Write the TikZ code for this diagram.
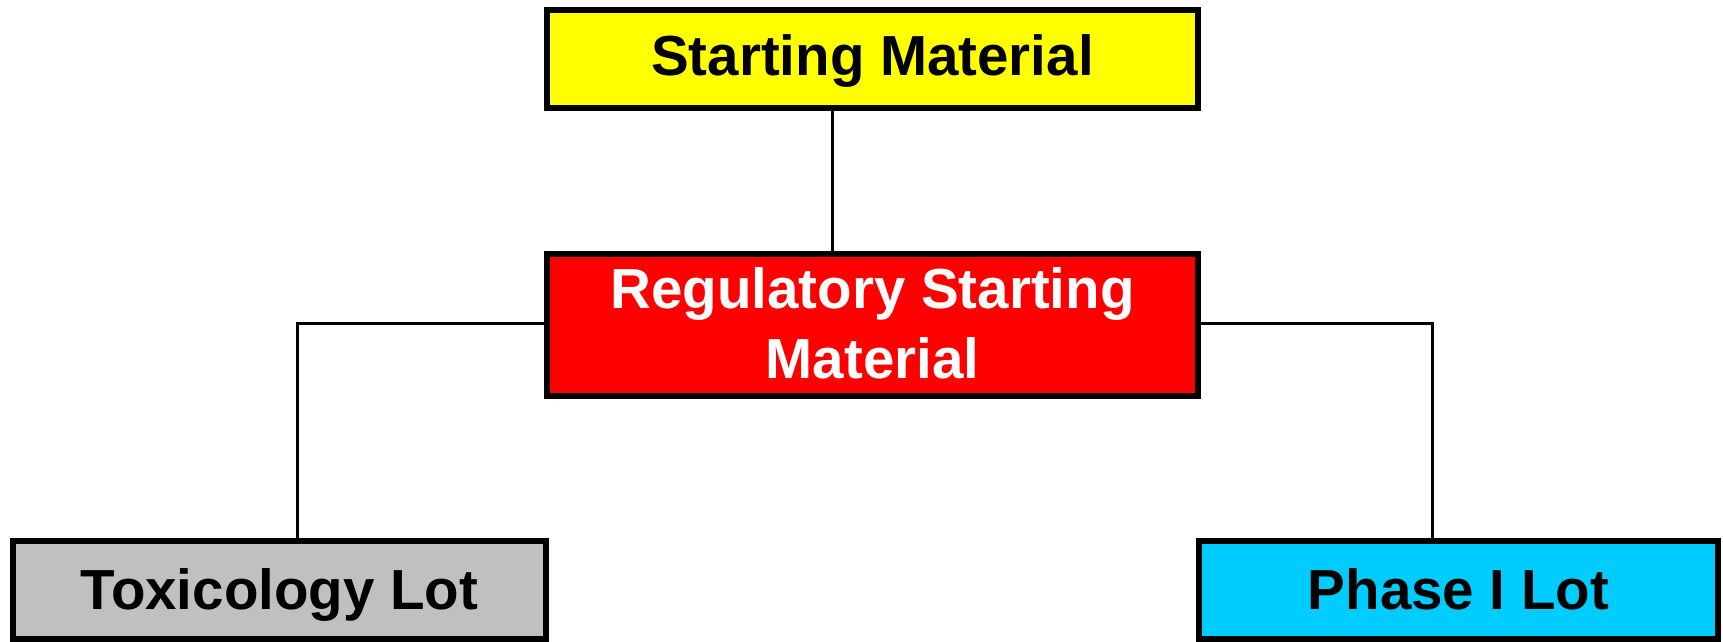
\documentclass[tikz,border=0pt]{standalone}
\usepackage{fontspec}
\setmainfont{Liberation Sans}
\definecolor{boxyellow}{HTML}{FFFF00}
\definecolor{boxred}{HTML}{FF0000}
\definecolor{boxgray}{HTML}{C0C0C0}
\definecolor{boxcyan}{HTML}{00CCFF}
\begin{document}
\begin{tikzpicture}[x=1pt,y=-1pt,
  stagebox/.style={draw=black,line width=6pt,inner sep=0pt,align=center,
    font=\bfseries\fontsize{56.5}{70}\selectfont},
  link/.style={draw=black,line width=3pt}]
\useasboundingbox (0,0) rectangle (1723,641);
\fill[white] (0,0) rectangle (1723,641);

\node[stagebox,fill=boxyellow,minimum width=651pt,minimum height=98pt,
  text height=41pt,text depth=9pt]
  (sm) at (872.5,59) {Starting Material};
\node[stagebox,fill=boxred,text=white,minimum width=651pt,minimum height=142pt]
  (rsm) at (872.5,325) {};
\node[font=\bfseries\fontsize{56.5}{70}\selectfont,text=white,align=center,inner sep=0pt]
  (rsmtext) at (872.5,323) {Regulatory Starting\\Material};
\node[stagebox,fill=boxgray,minimum width=533pt,minimum height=98pt,
  text height=41pt,text depth=3pt]
  (tox) at (279.5,590) {Toxicology Lot};
\node[stagebox,fill=boxcyan,minimum width=519pt,minimum height=98pt,
  text height=41pt,text depth=3pt]
  (ph1) at (1458.5,590) {Phase I Lot};

% branch positions of the connectors
\coordinate (jx) at (832,0);
\coordinate (lx) at (297,323);
\coordinate (rx) at (1432,323);

\draw[link] (sm.south -| jx) -- (rsm.north -| jx);
\draw[link] (rsm.west |- lx) -- (lx) -- (tox.north -| lx);
\draw[link] (rsm.east |- rx) -- (rx) -- (ph1.north -| rx);
\end{tikzpicture}
\end{document}
